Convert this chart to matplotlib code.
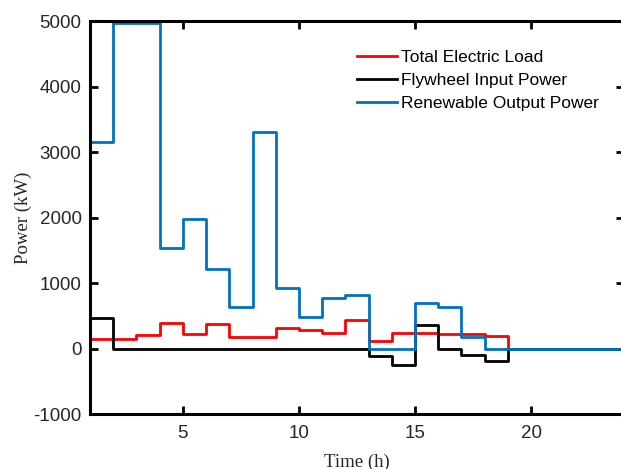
import numpy as np
import matplotlib.pyplot as plt

plt.rcParams['axes.unicode_minus'] = False

# hourly data, hour 1..24 (stairs, value holds until next hour)
hours = np.arange(1, 25)
load = [140, 150, 210, 385, 215, 375, 170, 170, 310, 280, 235, 440,
        120, 240, 230, 220, 220, 185, 0, 0, 0, 0, 0, 0]
flywheel = [470, 0, 0, 0, 0, 0, 0, 0, 0, 0, 0, 0,
            -110, -250, 360, 0, -100, -195, 0, 0, 0, 0, 0, 0]
renewable = [3160, 4970, 4970, 1540, 1970, 1210, 640, 3300, 930, 480, 765, 815,
             0, 0, 700, 630, 175, 0, 0, 0, 0, 0, 0, 0]

W, H = 621, 469
fig = plt.figure(figsize=(W / 100, H / 100), dpi=100)
# axes box runs a little past the right edge of the picture (cropped look)
ax = fig.add_axes([90 / W, 55 / H, (624 - 90) / W, (414 - 21) / H])

ax.step(hours, load, where='post', color='#FF0000', lw=2, label='Total Electric Load')
ax.step(hours, flywheel, where='post', color='black', lw=2, label='Flywheel Input Power')
ax.step(hours, renewable, where='post', color='#0072BD', lw=2, label='Renewable Output Power')

ax.set_xlim(1, 24)
ax.set_ylim(-1000, 5000)
ax.set_xticks([5, 10, 15, 20])
ax.set_yticks(np.arange(-1000, 5001, 1000))
ax.tick_params(direction='in', length=6, width=2, top=True, right=True,
               labelsize=13.5, labelcolor='#262626')
ax.tick_params(axis='x', pad=8)
ax.tick_params(axis='y', pad=6)
for lab in ax.get_xticklabels() + ax.get_yticklabels():
    lab.set_family('Liberation Sans')
for s in ax.spines.values():
    s.set_linewidth(2.2)

ax.set_xlabel('Time (h)', family='Liberation Serif', fontsize=13.5, color='#262626', labelpad=8)
ax.set_ylabel('Power (kW)', family='Liberation Serif', fontsize=13.5, color='#262626', labelpad=1)

ax.legend(loc='upper left', bbox_to_anchor=(357 / W, 1 - 50 / H), bbox_transform=fig.transFigure,
          frameon=False, borderpad=0, borderaxespad=0, handlelength=2.3, handletextpad=0.25,
          labelspacing=0.45, prop={'family': 'Liberation Sans', 'size': 12.5})

fig.savefig('out.png', dpi=100)
